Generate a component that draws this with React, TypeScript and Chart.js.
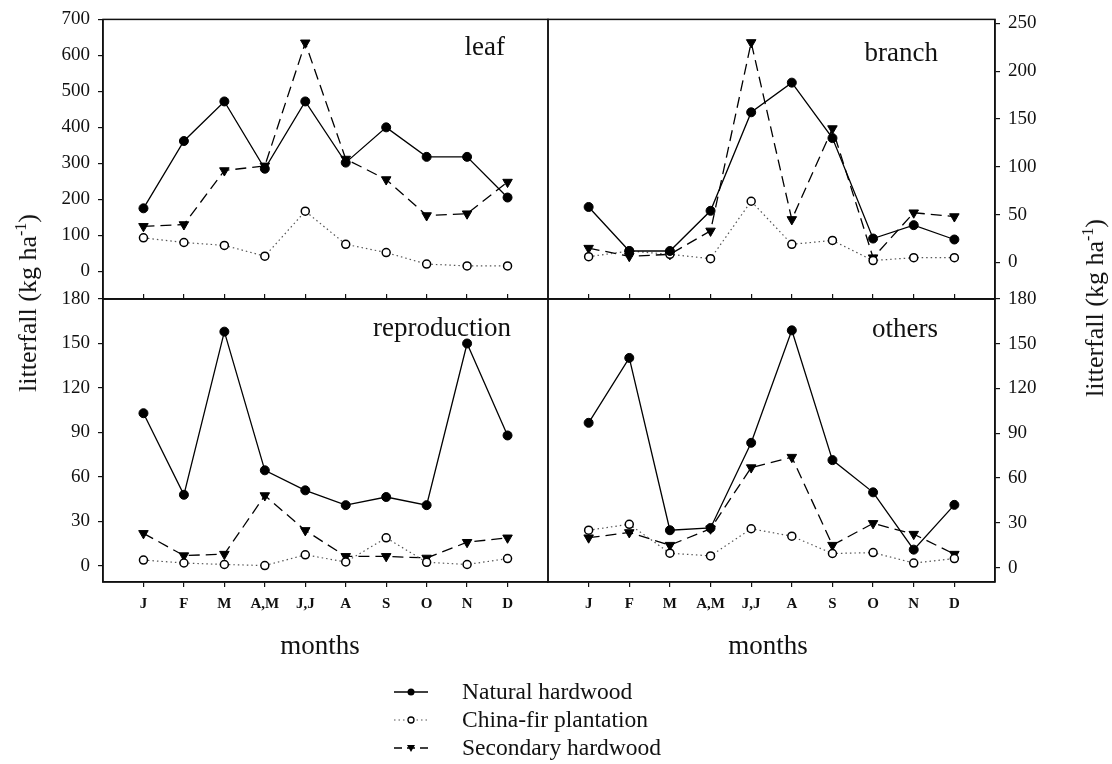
import React, { useEffect, useRef } from "react";
import { Chart, registerables } from "chart.js";

Chart.register(...registerables);

const months = ["J", "F", "M", "A,M", "J,J", "A", "S", "O", "N", "D"];

const leafNatural = [175, 362, 472, 285, 472, 302, 400, 318, 318, 205];
const leafFir = [93, 80, 72, 42, 167, 75, 52, 20, 15, 15];
const leafSecondary = [125, 130, 280, 293, 635, 312, 255, 155, 160, 248];

const branchNatural = [58, 12, 12, 54, 157, 188, 130, 25, 39, 24];
const branchFir = [6, 12, 8.5, 4, 64, 19, 23, 2, 5, 5];
const branchSecondary = [15, 6.5, 8.5, 33, 230, 45, 140, 5, 52, 48];

const reproNatural = [103, 48, 158, 64.5, 51, 41, 46.5, 41, 150, 88];
const reproFir = [4, 2, 1, 0.3, 7.5, 2.7, 19, 2.5, 1, 5];
const reproSecondary = [22, 7, 8, 47.5, 24, 6.5, 6.5, 5.4, 16, 19];

const othersNatural = [97, 140.5, 25, 26.5, 83.6, 159, 72, 50.4, 12, 42];
const othersFir = [25, 29, 9.6, 7.8, 26, 21, 9.4, 10, 3, 6];
const othersSecondary = [20, 23.5, 15, 26, 67, 74, 15, 29.6, 22.4, 9];

const leafTicks = [0, 100, 200, 300, 400, 500, 600, 700];
const branchTicks = [0, 50, 100, 150, 200, 250];
const reproTicks = [0, 30, 60, 90, 120, 150, 180];
const othersTicks = [0, 30, 60, 90, 120, 150, 180];

const W = 1112;
const H = 764;
const YW = 60;
const XH = 40;
const SERIF = "'Liberation Serif', 'Times New Roman', serif";

type Panel = {
  natural: number[];
  fir: number[];
  secondary: number[];
  yMin: number;
  yMax: number;
  yTicks: number[];
  area: { left: number; top: number; right: number; bottom: number };
  yPos: "left" | "right";
  showX: boolean;
};

const panels: Panel[] = [
  {
    natural: leafNatural, fir: leafFir, secondary: leafSecondary,
    yMin: -77, yMax: 700, yTicks: leafTicks,
    area: { left: 103, top: 16, right: 548, bottom: 299 }, yPos: "left", showX: false,
  },
  {
    natural: branchNatural, fir: branchFir, secondary: branchSecondary,
    yMin: -38.2, yMax: 254.1, yTicks: branchTicks,
    area: { left: 548, top: 16, right: 995, bottom: 299 }, yPos: "right", showX: false,
  },
  {
    natural: reproNatural, fir: reproFir, secondary: reproSecondary,
    yMin: -10.8, yMax: 180, yTicks: reproTicks,
    area: { left: 103, top: 299, right: 548, bottom: 582 }, yPos: "left", showX: true,
  },
  {
    natural: othersNatural, fir: othersFir, secondary: othersSecondary,
    yMin: -9.7, yMax: 180, yTicks: othersTicks,
    area: { left: 548, top: 299, right: 995, bottom: 582 }, yPos: "right", showX: true,
  },
];

const framePlugin = {
  id: "frame",
  afterDraw(chart: any) {
    const { ctx, chartArea } = chart;
    ctx.save();
    ctx.strokeStyle = "#111";
    ctx.lineWidth = 1.5;
    ctx.strokeRect(chartArea.left, chartArea.top, chartArea.right - chartArea.left, chartArea.bottom - chartArea.top);
    ctx.restore();
  },
};

function toPts(vals: number[]) {
  return vals.map((v, i) => ({ x: i, y: v }));
}

function PanelChart({ p }: { p: Panel }) {
  const ref = useRef<HTMLCanvasElement | null>(null);
  useEffect(() => {
    if (!ref.current) return;
    const padLeft = p.yPos === "left" ? p.area.left - YW : p.area.left;
    const padRight = p.yPos === "left" ? W - p.area.right : W - p.area.right - YW;
    const chart = new Chart(ref.current, {
      type: "line",
      data: {
        datasets: [
          {
            label: "Natural hardwood",
            data: toPts(p.natural),
            borderColor: "#000",
            borderWidth: 1.3,
            pointStyle: "circle",
            pointRadius: 4.5,
            pointBackgroundColor: "#000",
            pointBorderColor: "#000",
            pointBorderWidth: 1,
            tension: 0,
          },
          {
            label: "China-fir plantation",
            data: toPts(p.fir),
            borderColor: "#555",
            borderWidth: 1.2,
            borderDash: [1.5, 3],
            pointStyle: "circle",
            pointRadius: 4,
            pointBackgroundColor: "#fff",
            pointBorderColor: "#000",
            pointBorderWidth: 1.5,
            tension: 0,
          },
          {
            label: "Secondary hardwood",
            data: toPts(p.secondary),
            borderColor: "#000",
            borderWidth: 1.3,
            borderDash: [11, 6],
            pointStyle: "triangle",
            pointRotation: 180,
            pointRadius: 5.5,
            pointBackgroundColor: "#000",
            pointBorderColor: "#000",
            pointBorderWidth: 1,
            tension: 0,
          },
        ],
      },
      options: {
        animation: false,
        responsive: false,
        maintainAspectRatio: false,
        events: [],
        layout: {
          padding: {
            left: padLeft,
            right: padRight,
            top: p.area.top,
            bottom: H - p.area.bottom - XH,
          },
        },
        plugins: {
          legend: { display: false },
          tooltip: { enabled: false },
          title: { display: false },
        },
        scales: {
          x: {
            type: "linear",
            position: "bottom",
            min: -1,
            max: 10,
            afterBuildTicks: (scale: any) => {
              scale.ticks = months.map((_, i) => ({ value: i }));
            },
            afterFit: (scale: any) => {
              scale.height = XH;
            },
            ticks: {
              display: p.showX,
              autoSkip: false,
              maxRotation: 0,
              padding: 8,
              color: "#111",
              font: { family: SERIF, size: 15, weight: "bold" },
              callback: (_v: any, i: number) => months[i],
            },
            grid: {
              display: true,
              drawOnChartArea: false,
              drawTicks: true,
              tickLength: p.showX ? 5 : -5,
              color: "#111",
              lineWidth: 1.2,
            },
            border: { display: true, color: "#111", width: 1.5 },
          },
          y: {
            type: "linear",
            position: p.yPos,
            min: p.yMin,
            max: p.yMax,
            afterBuildTicks: (scale: any) => {
              scale.ticks = p.yTicks.map((v) => ({ value: v }));
            },
            afterFit: (scale: any) => {
              scale.width = YW;
            },
            ticks: {
              padding: 8,
              color: "#111",
              font: { family: SERIF, size: 19 },
              callback: (v: any) => String(v),
            },
            grid: {
              display: true,
              drawOnChartArea: false,
              drawTicks: true,
              tickLength: 5,
              color: "#111",
              lineWidth: 1.2,
            },
            border: { display: true, color: "#111", width: 1.5 },
          },
        },
      },
      plugins: [framePlugin],
    } as any);
    return () => chart.destroy();
  }, [p]);
  return (
    <canvas
      ref={ref}
      width={W}
      height={H}
      style={{ position: "absolute", left: 0, top: 0, width: W, height: H }}
    />
  );
}

const textBase: React.CSSProperties = {
  position: "absolute",
  fontFamily: SERIF,
  color: "#111",
  whiteSpace: "nowrap",
  lineHeight: 1,
};

function LegendSymbol({ kind }: { kind: "natural" | "fir" | "secondary" }) {
  return (
    <svg width={34} height={12} style={{ position: "absolute", left: 0, top: 0 }}>
      {kind === "natural" && (
        <g>
          <line x1={0} y1={6} x2={34} y2={6} stroke="#000" strokeWidth={1.3} />
          <circle cx={17} cy={6} r={3.5} fill="#000" />
        </g>
      )}
      {kind === "fir" && (
        <g>
          <line x1={0} y1={6} x2={34} y2={6} stroke="#555" strokeWidth={1.2} strokeDasharray="1.5 3" />
          <circle cx={17} cy={6} r={3} fill="#fff" stroke="#000" strokeWidth={1.3} />
        </g>
      )}
      {kind === "secondary" && (
        <g>
          <line x1={0} y1={6} x2={34} y2={6} stroke="#000" strokeWidth={1.3} strokeDasharray="8 5" />
          <polygon points="13,3 21,3 17,10" fill="#000" />
        </g>
      )}
    </svg>
  );
}

export default function App() {
  const legendRows: { kind: "natural" | "fir" | "secondary"; label: string; y: number }[] = [
    { kind: "natural", label: "Natural hardwood", y: 692 },
    { kind: "fir", label: "China-fir plantation", y: 720 },
    { kind: "secondary", label: "Secondary hardwood", y: 748 },
  ];
  return (
    <div style={{ position: "absolute", left: 0, top: 0, width: W, height: H, background: "#fff", overflow: "hidden" }}>
      {panels.map((p, i) => (
        <PanelChart key={i} p={p} />
      ))}
      <div style={{ ...textBase, fontSize: 27, right: W - 505, top: 33 }}>leaf</div>
      <div style={{ ...textBase, fontSize: 27, right: W - 938, top: 39 }}>branch</div>
      <div style={{ ...textBase, fontSize: 27, right: W - 511, top: 314 }}>reproduction</div>
      <div style={{ ...textBase, fontSize: 27, right: W - 938, top: 315 }}>others</div>

      <div
        style={{
          ...textBase,
          fontSize: 26,
          left: 27,
          top: 303,
          transform: "translate(-50%, -50%) rotate(-90deg)",
        }}
      >
        litterfall (kg ha<sup style={{ fontSize: 16, verticalAlign: 10 }}>-1</sup>)
      </div>
      <div
        style={{
          ...textBase,
          fontSize: 26,
          left: 1094,
          top: 308,
          transform: "translate(-50%, -50%) rotate(-90deg)",
        }}
      >
        litterfall (kg ha<sup style={{ fontSize: 16, verticalAlign: 10 }}>-1</sup>)
      </div>

      <div style={{ ...textBase, fontSize: 27, left: 320, top: 645, transform: "translate(-50%, -50%)" }}>months</div>
      <div style={{ ...textBase, fontSize: 27, left: 768, top: 645, transform: "translate(-50%, -50%)" }}>months</div>

      {legendRows.map((r) => (
        <div key={r.kind} style={{ position: "absolute", left: 394, top: r.y - 6, width: 320, height: 12 }}>
          <LegendSymbol kind={r.kind} />
          <div style={{ ...textBase, fontSize: 23.5, left: 68, top: 6, transform: "translateY(-50%)" }}>{r.label}</div>
        </div>
      ))}
    </div>
  );
}
